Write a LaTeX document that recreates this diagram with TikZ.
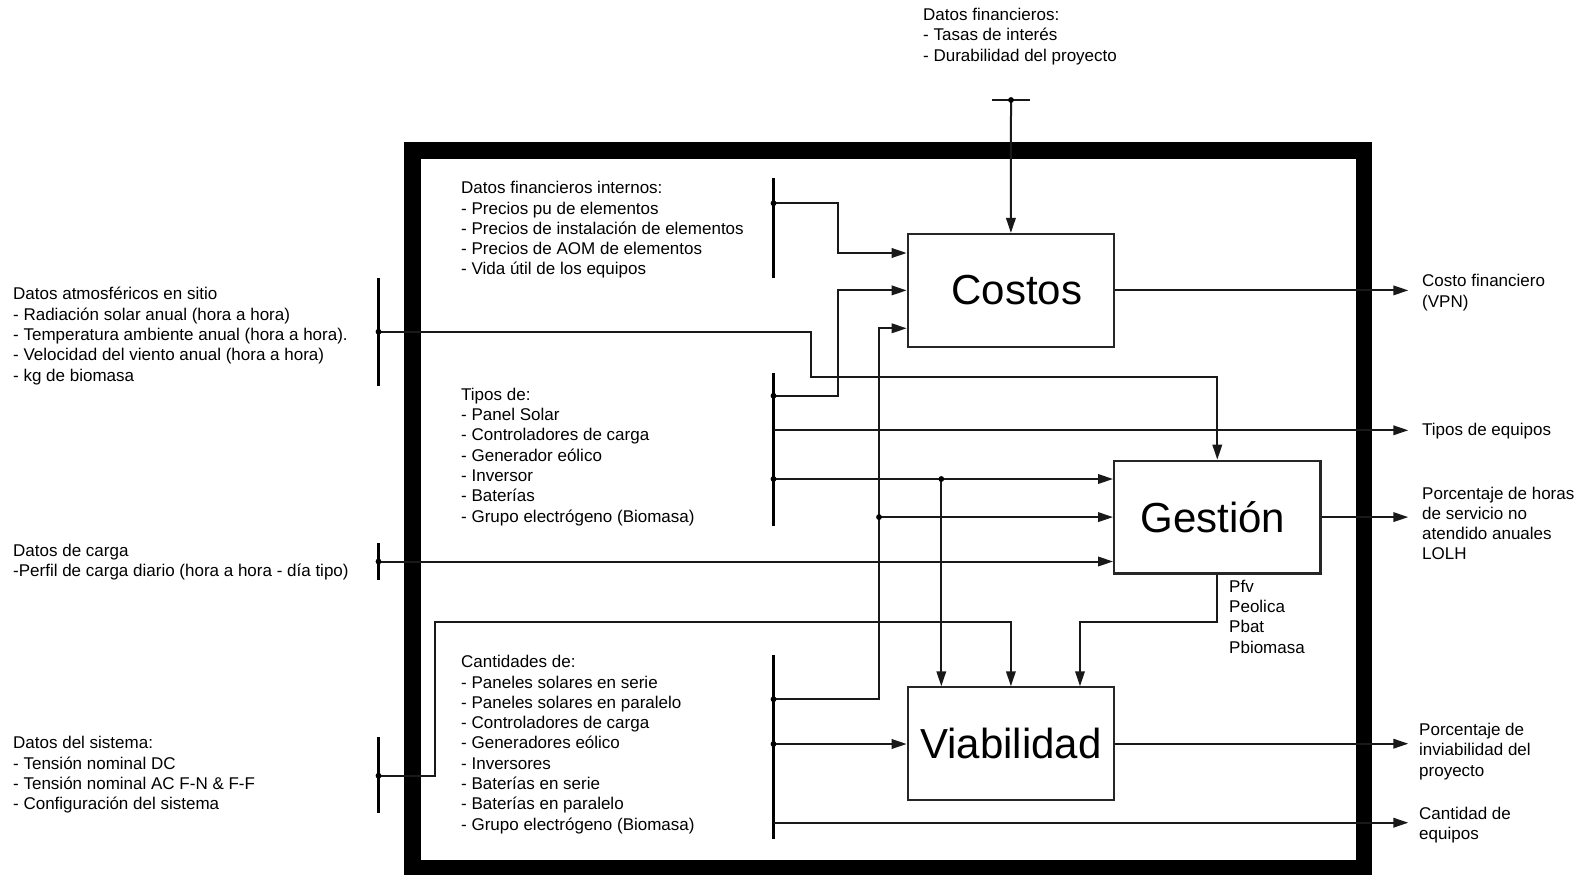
\documentclass[tikz,border=0pt]{standalone}
\usepackage{fontspec}
\setmainfont{Liberation Sans}
\usetikzlibrary{arrows.meta}
\newcommand\topstrut{\rule{0pt}{14pt}}
\begin{document}
\begin{tikzpicture}[x=1pt,y=-1pt,
  wire/.style={line width=2pt, draw=black!90},
  arr/.style={wire, -{Triangle[length=15pt,width=9.5pt]}},
  bus/.style={line width=2.6pt, draw=black},
  block/.style={draw=black!85, line width=2.2pt, minimum width=206.3pt,
    minimum height=112.7pt, inner sep=0pt, font=\fontsize{42}{50}\selectfont},
  txt/.style={anchor=north west, inner sep=0pt, align=left,
    font=\fontsize{17}{20.3}\selectfont},
  jdot/.style={fill=black}
]
\useasboundingbox (0,0) rectangle (1585,875);
\fill[white] (0,0) rectangle (1585,875);

% system boundary
\draw[line width=16.8pt] (412.7,150.5) rectangle (1364,868.4);

% blocks
\node[block] (costos) at (1010.9,290.4) {\kern12pt Costos};
\node[block] (gestion) at (1217.3,517.1) {Gestión\kern9pt\relax};
\node[block] (viab) at (1010.9,743.7) {Viabilidad};

% buses (end points)
\coordinate (topL) at (992.3,100);   \coordinate (topR) at (1030,100);
\coordinate (bfinT) at (773.5,178);  \coordinate (bfinB) at (773.5,278);
\coordinate (batmT) at (378.5,278);  \coordinate (batmB) at (378.5,386);
\coordinate (btipT) at (773.5,373);  \coordinate (btipB) at (773.5,526);
\coordinate (bcarT) at (378.5,543);  \coordinate (bcarB) at (378.5,580);
\coordinate (bcanT) at (773.5,655);  \coordinate (bcanB) at (773.5,839);
\coordinate (bsisT) at (378.5,737);  \coordinate (bsisB) at (378.5,813);

% junctions
\coordinate (jtop) at (1011,100);
\coordinate (jfin) at (773.5,203.3);
\coordinate (jatm) at (378.5,331.7);
\coordinate (jt1) at (773.5,395.7);
\coordinate (jt2) at (773.5,430.3);
\coordinate (jt3) at (773.5,479);
\coordinate (jcar) at (378.5,561.5);
\coordinate (jq1) at (773.5,699.3);
\coordinate (jq2) at (773.5,744);
\coordinate (jq3) at (773.5,822.7);
\coordinate (jsis) at (378.5,775.7);

% routing points
\coordinate (r1) at (838,253);
\coordinate (r2) at (838,290.4);
\coordinate (r3) at (879,328.3);
\coordinate (g1) at (879,517.1);
\coordinate (d1) at (941.3,479);
\coordinate (ra) at (810.7,376.5);
\coordinate (rs) at (435,621.7);
\coordinate (rg) at (1080,621.7);

% outputs
\coordinate (outC) at (1408.3,290.4);
\coordinate (outT) at (1408.3,430.3);
\coordinate (outG) at (1408.3,517.1);
\coordinate (outV) at (1408.3,743.7);
\coordinate (outQ) at (1408.3,822.7);

% bus bars
\draw[wire] (topL) -- (topR);
\draw[bus] (bfinT) -- (bfinB);
\draw[bus] (batmT) -- (batmB);
\draw[bus] (btipT) -- (btipB);
\draw[bus] (bcarT) -- (bcarB);
\draw[bus] (bcanT) -- (bcanB);
\draw[bus] (bsisT) -- (bsisB);

% inputs to Costos
\draw[arr] (jtop) -- (costos.north);
\draw[arr] (jfin) -| (r1) -- (r1 -| costos.west);
\draw[arr] (jt1) -| (r2) -- (costos.west);
\draw[arr] (jq1) -| (r3) -- (r3 -| costos.west);

% inputs to Gestion
\draw[arr] (jatm) -| (ra) -| (gestion.north);
\draw[arr] (jt3) -- (jt3 -| gestion.west);
\draw[arr] (g1) -- (gestion.west);
\draw[arr] (jcar) -- (jcar -| gestion.west);

% inputs to Viabilidad
\draw[arr] (d1) -- (d1 |- viab.north);
\draw[arr] (jsis) -| (rs) -| (viab.north);
\draw[arr] (gestion.south) |- (rg) -- (rg |- viab.north);
\draw[arr] (jq2) -- (jq2 -| viab.west);

% outputs
\draw[arr] (costos.east) -- (outC);
\draw[arr] (jt2) -- (outT);
\draw[arr] (gestion.east) -- (outG);
\draw[arr] (viab.east) -- (outV);
\draw[arr] (jq3) -- (outQ);

% junction dots
\foreach \p in {jtop,jfin,jatm,jt1,jt3,jcar,jq1,jq2,jsis,g1,d1}
  \fill[jdot] (\p) circle (2.9pt);

% texts
\node[txt] (tfin) at (923,6.3) {\topstrut Datos financieros:\\- Tasas de interés\\- Durabilidad del proyecto};
\node[txt] (tint) at (461,179.5) {\topstrut Datos financieros internos:\\- Precios pu de elementos\\- Precios de instalación de elementos\\- Precios de AOM de elementos\\- Vida útil de los equipos};
\node[txt] (tatm) at (13,285.7) {\topstrut Datos atmosféricos en sitio\\- Radiación solar anual (hora a hora)\\- Temperatura ambiente anual (hora a hora).\\- Velocidad del viento anual (hora a hora)\\- kg de biomasa};
\node[txt] (ttip) at (461,386) {\topstrut Tipos de:\\- Panel Solar\\- Controladores de carga\\- Generador eólico\\- Inversor\\- Baterías\\- Grupo electrógeno (Biomasa)};
\node[txt] (tcar) at (13,542) {\topstrut Datos de carga\\-Perfil de carga diario (hora a hora - día tipo)};
\node[txt] (tcan) at (461,653.5) {\topstrut Cantidades de:\\- Paneles solares en serie\\- Paneles solares en paralelo\\- Controladores de carga\\- Generadores eólico\\- Inversores\\- Baterías en serie\\- Baterías en paralelo\\- Grupo electrógeno (Biomasa)};
\node[txt] (tsis) at (13,734.5) {\topstrut Datos del sistema:\\- Tensión nominal DC\\- Tensión nominal AC F-N \& F-F\\- Configuración del sistema};
\node[txt] (tpot) at (1229,578) {\topstrut Pfv\\Peolica\\Pbat\\Pbiomasa};

\node[txt] (ocos) at (1422,272.7) {\topstrut Costo financiero\\(VPN)};
\node[txt] (otip) at (1422,421.2) {\topstrut Tipos de equipos};
\node[txt] (oges) at (1422,484.8) {\topstrut Porcentaje de horas\\de servicio no\\atendido anuales\\LOLH};
\node[txt] (ovia) at (1419,721.3) {\topstrut Porcentaje de\\inviabilidad del\\proyecto};
\node[txt] (ocan) at (1419,805) {\topstrut Cantidad de\\equipos};
\end{tikzpicture}
\end{document}
